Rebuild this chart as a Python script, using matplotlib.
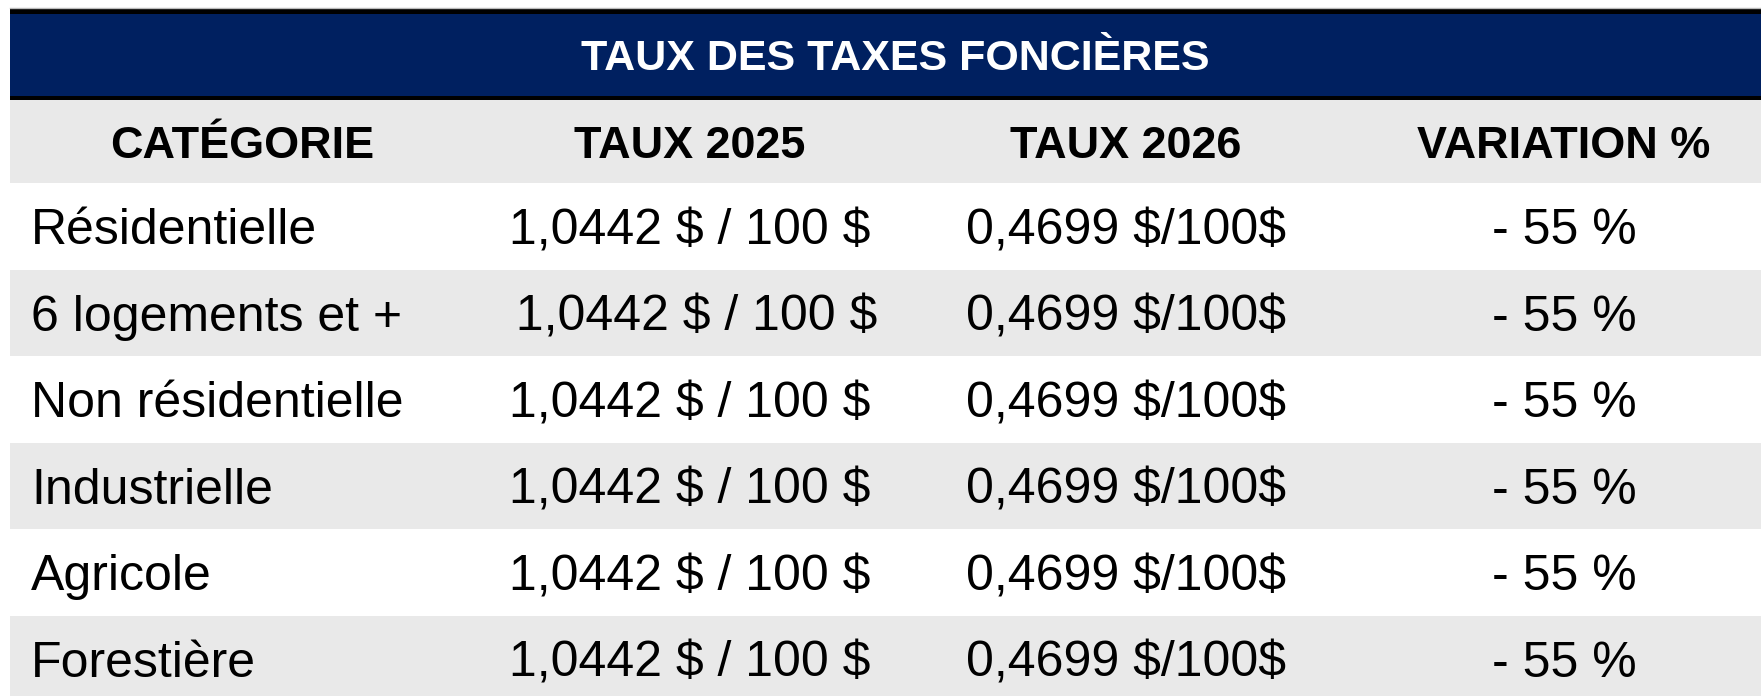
import matplotlib.pyplot as plt
from matplotlib.patches import Rectangle

# table content
title = 'TAUX DES TAXES FONCIÈRES'
headers = ['CATÉGORIE', 'TAUX 2025', 'TAUX 2026', 'VARIATION %']
categories = ['Résidentielle', '6 logements et +', 'Non résidentielle',
              'Industrielle', 'Agricole', 'Forestière']
taux_2025 = ['1,0442 $ / 100 $', ' 1,0442 $ / 100 $', '1,0442 $ / 100 $',
             '1,0442 $ / 100 $', '1,0442 $ / 100 $', '1,0442 $ / 100 $']
taux_2026 = ['0,4699 $/100$'] * 6
variation = ['- 55 %'] * 6

W, H = 1761, 696
navy = '#002060'
grey = '#E9E9E9'
plt.rcParams['font.family'] = ['Liberation Sans', 'DejaVu Sans']

fig = plt.figure(figsize=(W / 100, H / 100), dpi=100)
ax = fig.add_axes([0, 0, 1, 1])
ax.set_xlim(0, W)
ax.set_ylim(H, 0)
ax.axis('off')

left = 10
# title band with black rules
ax.plot([left, W], [8, 8], color='#BBBBBB', lw=1)
ax.add_patch(Rectangle((left, 9), W - left, 91, color='black', lw=0))
ax.add_patch(Rectangle((left, 14), W - left, 82, color=navy, lw=0))
ax.text(895, 55 + 0.36 * 43, title, color='white', fontsize=31,
        fontweight='bold', ha='center', va='baseline')

# header row
head_top, head_h = 100, 83
ax.add_patch(Rectangle((left, head_top), W - left, head_h, color=grey, lw=0))
col_x = [242, 690, 1126, 1564]
for x, h in zip(col_x, headers):
    ax.text(x, head_top + head_h / 2 + 0.36 * 45, h, fontsize=32.4,
            fontweight='bold', ha='center', va='baseline', color='black')

# body rows
row_h = 86.5
body_top = head_top + head_h
fs = 36
for i in range(len(categories)):
    top = body_top + i * row_h
    if i % 2 == 1:
        ax.add_patch(Rectangle((left, top), W - left, row_h, color=grey, lw=0))
    yb = top + row_h / 2 + 0.36 * fs * 100 / 72
    ax.text(31, yb, categories[i], fontsize=fs, ha='left', va='baseline')
    ax.text(col_x[1], yb, taux_2025[i], fontsize=fs, ha='center',
            va='baseline', parse_math=False)
    ax.text(col_x[2], yb, taux_2026[i], fontsize=fs, ha='center',
            va='baseline', parse_math=False)
    ax.text(col_x[3], yb, variation[i], fontsize=fs, ha='center', va='baseline')

fig.savefig('out.png', dpi=100)
